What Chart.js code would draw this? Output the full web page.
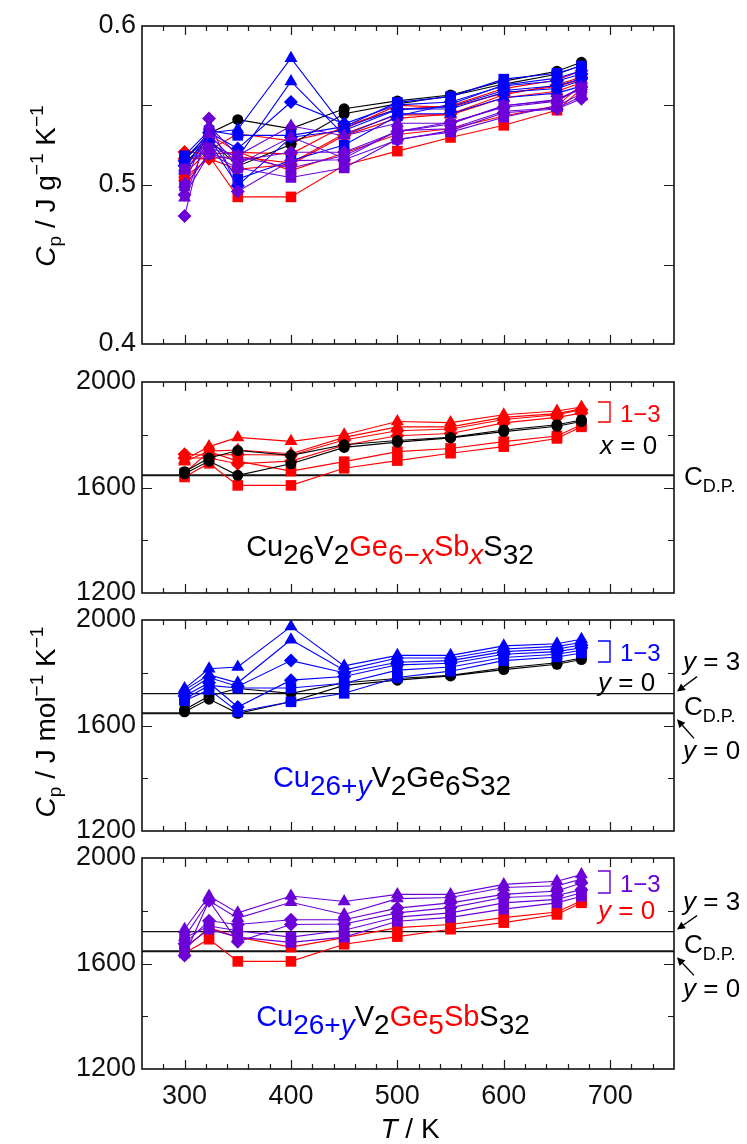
<!DOCTYPE html>
<html><head><meta charset="utf-8">
<script src="https://cdn.jsdelivr.net/npm/chart.js@4/dist/chart.umd.min.js"></script>
<style>
html,body{margin:0;padding:0;background:#fff;}
#wrap{position:relative;width:747px;height:1144px;overflow:hidden;background:#fff;}
canvas{position:absolute;left:0;top:0;}
</style></head>
<body><div id="wrap">
<canvas id="c1" width="747" height="1144"></canvas>
<canvas id="c2" width="747" height="1144"></canvas>
<canvas id="c3" width="747" height="1144"></canvas>
<canvas id="c4" width="747" height="1144"></canvas>
</div>
<script>
// ---------- data (Cp in J mol^-1 K^-1) ----------
const temps = [300, 323, 350, 400, 450, 500, 550, 600, 650, 673];
const xTickLabels = [300, 400, 500, 600, 700];
const xMinorTicks = [280,300,320,340,360,380,400,420,440,460,480,500,520,540,560,580,600,620,640,660,680,700,720,740];
const gramTickLabels = [0.4, 0.5, 0.6];
const molTickLabels = [1200, 1600, 2000];
const cdpY0 = [1646, 1646];   // Dulong-Petit, 66 atoms
const cdpY3 = [1721, 1721];   // Dulong-Petit, 69 atoms
const cdpX = [260, 760];

// Cu26V2Ge6S32 (x = 0 / y = 0), two runs
const base_a = [1660, 1712, 1740, 1722, 1762, 1778, 1790, 1818, 1838, 1856];
const base_b = [1652, 1700, 1646, 1690, 1752, 1772, 1788, 1812, 1832, 1850];
// Cu26V2Ge6-xSbxS32, x = 1 (squares; also y = 0 of the Ge5Sb series)
const sb1_a = [1655, 1736, 1700, 1662, 1698, 1736, 1748, 1774, 1795, 1838];
const sb1_b = [1640, 1692, 1608, 1608, 1673, 1702, 1730, 1755, 1786, 1830];
// x = 2 (diamonds)
const sb2_a = [1726, 1722, 1725, 1722, 1780, 1815, 1822, 1858, 1876, 1895];
const sb2_b = [1712, 1712, 1690, 1700, 1760, 1796, 1805, 1845, 1866, 1882];
// x = 3 (triangles)
const sb3_a = [1705, 1755, 1790, 1775, 1800, 1850, 1846, 1876, 1890, 1905];
const sb3_b = [1698, 1738, 1742, 1728, 1790, 1830, 1830, 1866, 1880, 1898];
// Cu26+yV2Ge6S32, y = 1, 2, 3
const cu1_a = [1700, 1752, 1742, 1742, 1760, 1810, 1822, 1858, 1870, 1885];
const cu1_b = [1694, 1736, 1652, 1690, 1722, 1782, 1806, 1846, 1860, 1875];
const cu2_a = [1722, 1782, 1748, 1846, 1800, 1840, 1846, 1880, 1890, 1905];
const cu2_b = [1712, 1762, 1670, 1772, 1786, 1830, 1836, 1870, 1880, 1895];
const cu3_a = [1740, 1815, 1822, 1975, 1826, 1866, 1866, 1902, 1910, 1927];
const cu3_b = [1734, 1792, 1762, 1925, 1810, 1856, 1856, 1890, 1900, 1915];
// Cu26+yV2Ge5SbS32, y = 1, 2, 3
const cusb1_a = [1698, 1742, 1724, 1700, 1726, 1776, 1792, 1830, 1843, 1868];
const cusb1_b = [1662, 1730, 1700, 1680, 1700, 1760, 1775, 1806, 1830, 1855];
const cusb2_a = [1675, 1762, 1748, 1766, 1766, 1810, 1830, 1862, 1875, 1905];
const cusb2_b = [1630, 1838, 1682, 1748, 1750, 1792, 1812, 1850, 1858, 1880];
const cusb3_a = [1730, 1856, 1792, 1856, 1835, 1862, 1862, 1900, 1912, 1937];
const cusb3_b = [1700, 1838, 1772, 1832, 1786, 1846, 1850, 1888, 1895, 1920];

// molar masses (g/mol) used to convert to J g^-1 K^-1 for the top panel
const M_base = 3215.8, M_sb1 = 3264.9, M_sb2 = 3314.1, M_sb3 = 3363.2;
const M_cu1 = 3279.3, M_cu2 = 3342.9, M_cu3 = 3406.4;
const M_cusb1 = 3328.5, M_cusb2 = 3392.0, M_cusb3 = 3455.6;

// ---------- styling ----------
const FONT = "'Liberation Sans', Arial, Helvetica, sans-serif";
const BLACK = '#000000', RED = '#ff0000', BLUE = '#0000ff', PURPLE = '#6c00d8';
const RAD = {circle: 5.5, rect: 7.5, rectRot: 7, triangle: 7.5};

function ds(arr, color, shape, M) {
  return {
    data: temps.map((t, i) => ({x: t, y: arr[i] / M})),
    borderColor: color, backgroundColor: color,
    pointStyle: shape, pointRadius: RAD[shape], pointBorderWidth: 0,
    borderWidth: 1.1, showLine: true
  };
}
function hline(vals, width) {
  return {data: cdpX.map((x, i) => ({x, y: vals[i]})), borderColor: '#111', backgroundColor: '#111',
          borderWidth: width, pointRadius: 0, showLine: true};
}
function ordered(list) { list.forEach((d, i) => d.order = -i); return list; }

const redSet = M => [
  ds(sb1_a, RED, 'rect', M ? M_sb1 : 1), ds(sb1_b, RED, 'rect', M ? M_sb1 : 1),
  ds(sb2_a, RED, 'rectRot', M ? M_sb2 : 1), ds(sb2_b, RED, 'rectRot', M ? M_sb2 : 1),
  ds(sb3_a, RED, 'triangle', M ? M_sb3 : 1), ds(sb3_b, RED, 'triangle', M ? M_sb3 : 1)];
const blackSet = M => [ds(base_a, BLACK, 'circle', M ? M_base : 1), ds(base_b, BLACK, 'circle', M ? M_base : 1)];
const blueSet = M => [
  ds(cu1_a, BLUE, 'rect', M ? M_cu1 : 1), ds(cu1_b, BLUE, 'rect', M ? M_cu1 : 1),
  ds(cu2_a, BLUE, 'rectRot', M ? M_cu2 : 1), ds(cu2_b, BLUE, 'rectRot', M ? M_cu2 : 1),
  ds(cu3_a, BLUE, 'triangle', M ? M_cu3 : 1), ds(cu3_b, BLUE, 'triangle', M ? M_cu3 : 1)];
const purpleSet = M => [
  ds(cusb1_a, PURPLE, 'rect', M ? M_cusb1 : 1), ds(cusb1_b, PURPLE, 'rect', M ? M_cusb1 : 1),
  ds(cusb2_a, PURPLE, 'rectRot', M ? M_cusb2 : 1), ds(cusb2_b, PURPLE, 'rectRot', M ? M_cusb2 : 1),
  ds(cusb3_a, PURPLE, 'triangle', M ? M_cusb3 : 1), ds(cusb3_b, PURPLE, 'triangle', M ? M_cusb3 : 1)];

// ---------- drawing helpers ----------
function fontOf(p) { return (p.i ? 'italic ' : '') + (p.s || 26) + 'px ' + FONT; }
function rich(ctx, x, y, parts, align) {
  let w = 0;
  for (const p of parts) { ctx.font = fontOf(p); p._w = ctx.measureText(p.t).width; w += p._w; }
  let cx = align === 'center' ? x - w / 2 : (align === 'right' ? x - w : x);
  ctx.textBaseline = 'alphabetic'; ctx.textAlign = 'left';
  for (const p of parts) { ctx.font = fontOf(p); ctx.fillStyle = p.c || '#000'; ctx.fillText(p.t, cx, y + (p.dy || 0)); cx += p._w; }
}
function arrow(ctx, x1, y1, x2, y2) {
  ctx.save(); ctx.strokeStyle = '#000'; ctx.fillStyle = '#000'; ctx.lineWidth = 1.4;
  const ang = Math.atan2(y2 - y1, x2 - x1), L = 8, W = 4;
  const bx = x2 - L * Math.cos(ang), by = y2 - L * Math.sin(ang);
  ctx.beginPath(); ctx.moveTo(x1, y1); ctx.lineTo(bx, by); ctx.stroke();
  ctx.beginPath(); ctx.moveTo(x2, y2);
  ctx.lineTo(bx + W * Math.sin(ang), by - W * Math.cos(ang));
  ctx.lineTo(bx - W * Math.sin(ang), by + W * Math.cos(ang)); ctx.closePath(); ctx.fill();
  ctx.restore();
}
function bracket(ctx, x, y1, y2, color) {
  ctx.save(); ctx.strokeStyle = color; ctx.lineWidth = 1.4;
  ctx.beginPath(); ctx.moveTo(x, y1); ctx.lineTo(x + 12, y1); ctx.lineTo(x + 12, y2); ctx.lineTo(x, y2); ctx.stroke();
  ctx.restore();
}
function frameAndTicks(chart, ySpec) {
  const {ctx, chartArea: a, scales: {x, y}} = chart;
  ctx.save(); ctx.strokeStyle = '#1a1a1a'; ctx.lineWidth = 1.2;
  ctx.beginPath();
  for (const v of xMinorTicks) {
    const px = Math.round(x.getPixelForValue(v)) + 0.5;
    const len = xTickLabels.includes(v) ? 9 : 5;
    ctx.moveTo(px, a.bottom); ctx.lineTo(px, a.bottom - len);
    ctx.moveTo(px, a.top); ctx.lineTo(px, a.top + len);
  }
  for (const [v, len] of ySpec) {
    const py = Math.round(y.getPixelForValue(v)) + 0.5;
    ctx.moveTo(a.left, py); ctx.lineTo(a.left + len, py);
    ctx.moveTo(a.right, py); ctx.lineTo(a.right - len, py);
  }
  ctx.stroke();
  ctx.lineWidth = 1.6; ctx.strokeStyle = '#111';
  ctx.strokeRect(a.left, a.top, a.right - a.left, a.bottom - a.top);
  ctx.restore();
}
function cdpLabel(ctx, x, base) {
  rich(ctx, x, base, [{t: 'C', s: 26}, {t: 'D.P.', s: 18, dy: 7}], 'left');
}

function makeChart(id, cfg) {
  const xh = cfg.xLabels ? 44 : 0;
  return new Chart(document.getElementById(id), {
    type: 'scatter',
    data: {datasets: cfg.datasets},
    options: {
      responsive: false, animation: false, events: [],
      layout: {padding: {left: 0, right: 747 - 674, top: cfg.top, bottom: 1144 - cfg.bottom - xh}},
      plugins: {legend: {display: false}, tooltip: {enabled: false}},
      scales: {
        x: {type: 'linear', min: 260, max: 760, display: !!cfg.xLabels,
            grid: {display: false, drawTicks: false}, border: {display: false},
            ticks: {font: {family: FONT, size: 27}, color: '#111', padding: 11, maxRotation: 0, autoSkip: false,
                    callback: v => String(v)},
            afterBuildTicks: s => { if (cfg.xLabels) s.ticks = cfg.xLabels.map(v => ({value: v})); },
            afterFit: s => { s.height = xh; }},
        y: {type: 'linear', min: cfg.yMin, max: cfg.yMax,
            grid: {display: false, drawTicks: false}, border: {display: false},
            ticks: {font: {family: FONT, size: 27}, color: '#111', padding: 6, callback: v => String(v)},
            afterBuildTicks: s => { s.ticks = cfg.yLabels.map(v => ({value: v})); },
            afterFit: s => { s.width = 142; }}
      }
    },
    plugins: [{id: 'deco_' + id, afterDatasetsDraw(chart) { frameAndTicks(chart, cfg.ySpec); if (cfg.extra) cfg.extra(chart); }}]
  });
}

const molSpec = [[1400, 6], [1600, 10], [1800, 6]];

// Panel 1: J g^-1 K^-1
makeChart('c1', {
  top: 26, bottom: 344, yMin: 0.4, yMax: 0.6, yLabels: gramTickLabels,
  ySpec: [[0.45, 10], [0.5, 10], [0.55, 10]],
  datasets: ordered([...redSet(true), ...blackSet(true), ...blueSet(true), ...purpleSet(true)]),
  extra(chart) {
    const ctx = chart.ctx;
    ctx.save(); ctx.translate(55, 186); ctx.rotate(-Math.PI / 2);
    rich(ctx, 0, 0, [{t: 'C', i: true, s: 28}, {t: 'p', s: 19, dy: 6}, {t: ' / J g', s: 28},
                     {t: '\u22121', s: 19, dy: -12}, {t: ' K', s: 28}, {t: '\u22121', s: 19, dy: -12}], 'center');
    ctx.restore();
    ctx.save(); ctx.translate(55, 722); ctx.rotate(-Math.PI / 2);
    rich(ctx, 0, 0, [{t: 'C', i: true, s: 28}, {t: 'p', s: 19, dy: 6}, {t: ' / J mol', s: 28},
                     {t: '\u22121', s: 19, dy: -12}, {t: ' K', s: 28}, {t: '\u22121', s: 19, dy: -12}], 'center');
    ctx.restore();
  }
});

// Panel 2: Cu26V2Ge6-xSbxS32
makeChart('c2', {
  top: 382, bottom: 593, yMin: 1200, yMax: 2000, yLabels: molTickLabels, ySpec: molSpec,
  datasets: ordered([hline(cdpY0, 2), ...redSet(false), ...blackSet(false)]),
  extra(chart) {
    const ctx = chart.ctx, y = chart.scales.y, t = chart.chartArea.top;
    bracket(ctx, 598, t + 20, t + 40, RED);
    rich(ctx, 620, t + 40, [{t: '1\u22123', s: 24, c: RED}], 'left');
    rich(ctx, 600, t + 72, [{t: 'x', i: true, s: 26}, {t: ' = 0', s: 26}], 'left');
    const l0 = y.getPixelForValue(cdpY0[0]);
    cdpLabel(ctx, 684, l0 + 10);
    const S = 29, s = 28, d = 8;
    rich(ctx, 390, 556, [{t: 'Cu', s: S}, {t: '26', s, dy: d}, {t: 'V', s: S}, {t: '2', s, dy: d},
      {t: 'Ge', s: S, c: RED}, {t: '6\u2212', s, dy: d, c: RED}, {t: 'x', s, dy: d, i: true, c: RED},
      {t: 'Sb', s: S, c: RED}, {t: 'x', s, dy: d, i: true, c: RED}, {t: 'S', s: S}, {t: '32', s, dy: d}], 'center');
  }
});

// Panel 3: Cu26+yV2Ge6S32
makeChart('c3', {
  top: 620, bottom: 831, yMin: 1200, yMax: 2000, yLabels: molTickLabels, ySpec: molSpec,
  datasets: ordered([hline(cdpY0, 2), hline(cdpY3, 1.2), ...blackSet(false), ...blueSet(false)]),
  extra(chart) {
    const ctx = chart.ctx, y = chart.scales.y, t = chart.chartArea.top;
    bracket(ctx, 598, t + 21, t + 42, BLUE);
    rich(ctx, 620, t + 41, [{t: '1\u22123', s: 24, c: BLUE}], 'left');
    rich(ctx, 598, t + 71, [{t: 'y', i: true, s: 26}, {t: ' = 0', s: 26}], 'left');
    const l0 = y.getPixelForValue(cdpY0[0]), l3 = y.getPixelForValue(cdpY3[0]);
    rich(ctx, 683, l3 - 24, [{t: 'y', i: true, s: 26}, {t: ' = 3', s: 26}], 'left');
    arrow(ctx, 697, l3 - 17, 677, l3 - 2);
    cdpLabel(ctx, 684, l0 + 2);
    arrow(ctx, 694, l0 + 25, 677, l0 + 6);
    rich(ctx, 683, l0 + 46, [{t: 'y', i: true, s: 26}, {t: ' = 0', s: 26}], 'left');
    const S = 29, s = 28, d = 8;
    rich(ctx, 392, 787, [{t: 'Cu', s: S, c: BLUE}, {t: '26+', s, dy: d, c: BLUE}, {t: 'y', s, dy: d, i: true, c: BLUE},
      {t: 'V', s: S}, {t: '2', s, dy: d}, {t: 'Ge', s: S}, {t: '6', s, dy: d}, {t: 'S', s: S}, {t: '32', s, dy: d}], 'center');
  }
});

// Panel 4: Cu26+yV2Ge5SbS32
makeChart('c4', {
  top: 858, bottom: 1069, yMin: 1200, yMax: 2000, yLabels: molTickLabels, ySpec: molSpec,
  xLabels: xTickLabels,
  datasets: ordered([hline(cdpY0, 2), hline(cdpY3, 1.2), ds(sb1_a, RED, 'rect', 1), ds(sb1_b, RED, 'rect', 1), ...purpleSet(false)]),
  extra(chart) {
    const ctx = chart.ctx, y = chart.scales.y, t = chart.chartArea.top;
    bracket(ctx, 598, t + 13, t + 35, PURPLE);
    rich(ctx, 620, t + 34, [{t: '1\u22123', s: 24, c: PURPLE}], 'left');
    rich(ctx, 598, t + 61, [{t: 'y', i: true, s: 26, c: RED}, {t: ' = 0', s: 26, c: RED}], 'left');
    const l0 = y.getPixelForValue(cdpY0[0]), l3 = y.getPixelForValue(cdpY3[0]);
    rich(ctx, 683, l3 - 22, [{t: 'y', i: true, s: 26}, {t: ' = 3', s: 26}], 'left');
    arrow(ctx, 697, l3 - 16, 677, l3 - 2);
    cdpLabel(ctx, 684, l0 + 2);
    arrow(ctx, 694, l0 + 24, 677, l0 + 6);
    rich(ctx, 683, l0 + 46, [{t: 'y', i: true, s: 26}, {t: ' = 0', s: 26}], 'left');
    const S = 29, s = 28, d = 8;
    rich(ctx, 393, 1026, [{t: 'Cu', s: S, c: BLUE}, {t: '26+', s, dy: d, c: BLUE}, {t: 'y', s, dy: d, i: true, c: BLUE},
      {t: 'V', s: S}, {t: '2', s, dy: d}, {t: 'Ge', s: S, c: RED}, {t: '5', s, dy: d, c: RED}, {t: 'Sb', s: S, c: RED},
      {t: 'S', s: S}, {t: '32', s, dy: d}], 'center');
    rich(ctx, 410, 1138, [{t: 'T', i: true, s: 28}, {t: ' / K', s: 28}], 'center');
  }
});
</script>
</body></html>
